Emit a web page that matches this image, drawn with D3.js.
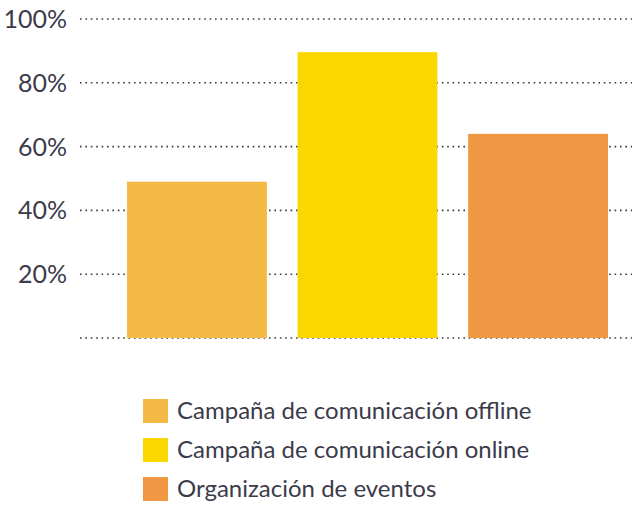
<!DOCTYPE html>
<html>
<head>
<meta charset="utf-8">
<script src="https://cdn.jsdelivr.net/npm/d3@7"></script>
<style>
	html, body { margin: 0; padding: 0; background: #fff; }
	svg text { font-family: Lato, "Open Sans", sans-serif; fill: #3b3b4b; }
</style>
</head>
<body>
<div id="chart"></div>
<script>
const categories = [
	'Campaña de comunicación offline',
	'Campaña de comunicación online',
	'Organización de eventos'
];
const values = [49, 89.6, 64];
const colors = ['#f5b945', '#fbd700', '#f09744'];
const tickValues = [0, 20, 40, 60, 80, 100];

const width = 634, height = 509;

const svg = d3.select('#chart').append('svg')
	.attr('width', width)
	.attr('height', height);

const x = d3.scaleBand()
	.domain(categories)
	.range([127, 608])
	.paddingInner(0.18)
	.paddingOuter(0);

const y = d3.scaleLinear()
	.domain([0, 100])
	.range([338, 19]);

// dotted grid lines
svg.append('g').attr('class', 'grid')
	.selectAll('line')
	.data(tickValues)
	.enter().append('line')
	.attr('x1', 80)
	.attr('x2', 632)
	.attr('y1', d => y(d))
	.attr('y2', d => y(d))
	.attr('stroke', '#3a3a3a')
	.attr('stroke-width', 1.6)
	.attr('stroke-dasharray', '1.6,3.8');

// tick labels (no label at 0)
svg.append('g').attr('class', 'ticks')
	.selectAll('text')
	.data(tickValues.filter(d => d > 0))
	.enter().append('text')
	.attr('x', 67)
	.attr('y', d => y(d))
	.attr('dy', '0.36em')
	.attr('text-anchor', 'end')
	.style('font-size', '25px')
	.text(d => d + '%');

// bars
svg.append('g').attr('class', 'bars')
	.selectAll('rect')
	.data(values)
	.enter().append('rect')
	.attr('x', (d, i) => x(categories[i]))
	.attr('width', x.bandwidth())
	.attr('y', d => y(d))
	.attr('height', d => y(0) - y(d))
	.attr('fill', (d, i) => colors[i]);

// legend
const legend = svg.append('g').attr('class', 'legend')
	.attr('transform', 'translate(143,399)')
	.selectAll('g')
	.data(categories)
	.enter().append('g')
	.attr('transform', (d, i) => 'translate(0,' + (i * 39) + ')');

legend.append('rect')
	.attr('width', 25)
	.attr('height', 24)
	.attr('fill', (d, i) => colors[i]);

legend.append('text')
	.attr('x', 34)
	.attr('y', 12)
	.attr('dy', '0.35em')
	.style('font-size', '24px')
	.text(d => d);
</script>
</body>
</html>
